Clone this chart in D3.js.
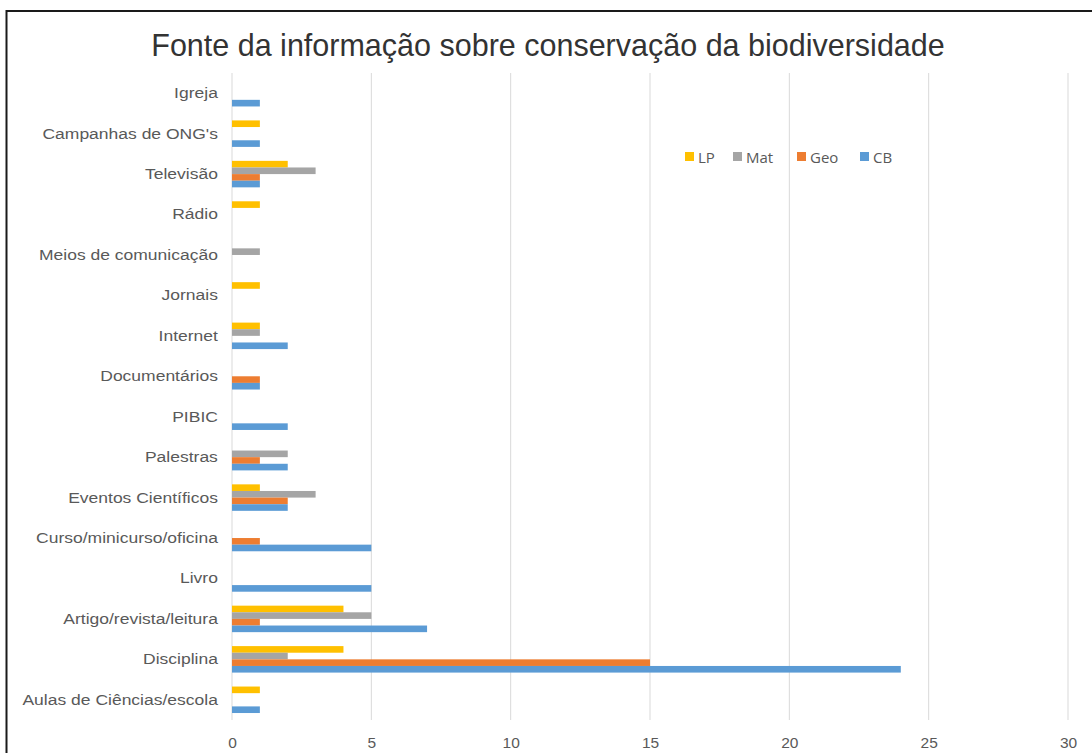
<!DOCTYPE html>
<html>
<head>
<meta charset="utf-8">
<script src="https://cdnjs.cloudflare.com/ajax/libs/d3/7.8.5/d3.min.js"></script>
<style>
html,body{margin:0;padding:0;background:#fff;}
svg{display:block;}
</style>
</head>
<body>
<svg id="chart" width="1092" height="753"></svg>
<script>
const categories = ["Igreja","Campanhas de ONG's","Televisão","Rádio","Meios de comunicação","Jornais","Internet","Documentários","PIBIC","Palestras","Eventos Científicos","Curso/minicurso/oficina","Livro","Artigo/revista/leitura","Disciplina","Aulas de Ciências/escola"];
const seriesNames = ["LP","Mat","Geo","CB"];
const seriesColors = ["#FFC000","#A5A5A5","#ED7D31","#5B9BD5"];
const LP  = [0,1,2,1,0,1,1,0,0,0,1,0,0,4,4,1];
const Mat = [0,0,3,0,1,0,1,0,0,2,3,0,0,5,2,0];
const Geo = [0,0,1,0,0,0,0,1,0,1,2,1,0,1,15,0];
const CB  = [1,1,1,0,0,0,2,1,2,2,2,5,5,7,24,1];
const xTicks = [0,5,10,15,20,25,30];
const title = "Fonte da informação sobre conservação da biodiversidade";

const seriesValues = [LP, Mat, Geo, CB];
const svg = d3.select("#chart");

// outer border (only left and top visible in reference)
svg.append("rect").attr("x",6.5).attr("y",11).attr("width",1200).attr("height",900)
  .attr("fill","none").attr("stroke","#1a1a1a").attr("stroke-width",2);

const plot = {left:232, right:1068, top:73, bottom:720};

const x = d3.scaleLinear().domain([0,30]).range([plot.left, plot.right]);
const y = d3.scaleBand().domain(categories).range([plot.top, plot.bottom]).paddingInner(0.345).paddingOuter(0.1725);
const ys = d3.scaleBand().domain(seriesNames).range([0, y.bandwidth()]);

// gridlines
svg.append("g").selectAll("line").data(xTicks.slice(1)).join("line")
  .attr("x1", d=>x(d)).attr("x2", d=>x(d))
  .attr("y1", plot.top).attr("y2", plot.bottom)
  .attr("stroke","#d9d9d9").attr("stroke-width",1);

// category axis line
svg.append("line").attr("x1",x(0)).attr("x2",x(0)).attr("y1",plot.top).attr("y2",plot.bottom)
  .attr("stroke","#d9d9d9").attr("stroke-width",1);

// bars
seriesNames.forEach((s,i)=>{
  svg.append("g").selectAll("rect").data(categories.map((c,j)=>({c, v:seriesValues[i][j]})).filter(d=>d.v>0))
    .join("rect")
    .attr("x", x(0))
    .attr("y", d=>y(d.c)+ys(s))
    .attr("width", d=>x(d.v)-x(0))
    .attr("height", ys.bandwidth())
    .attr("fill", seriesColors[i]);
});

// category labels
const yAxis = d3.axisLeft(y).tickSize(0).tickPadding(12.5);
const gy = svg.append("g").attr("transform",`translate(${x(0)},0)`).call(yAxis);
gy.select(".domain").remove();
gy.selectAll("text").attr("font-family","Liberation Sans, Arial, sans-serif")
  .attr("font-size","15.5px").attr("fill","#595959")
  .attr("transform","scale(1.13,1)");

// x axis tick labels
const xAxis = d3.axisBottom(x).tickValues(xTicks).tickSize(0).tickPadding(0);
const gx = svg.append("g").attr("transform",`translate(0,${plot.bottom+17})`).call(xAxis);
gx.select(".domain").remove();
gx.selectAll("text").attr("font-family","Liberation Sans, Arial, sans-serif")
  .attr("font-size","15.5px").attr("fill","#595959");

// title
svg.append("text").attr("x",548).attr("y",56).attr("text-anchor","middle")
  .attr("font-family","Liberation Sans, Arial, sans-serif").attr("font-size","30.5px")
  .attr("fill","#333333").text(title);

// legend
const legendX = [685, 733, 797, 860];
const lg = svg.append("g");
seriesNames.forEach((s,i)=>{
  lg.append("rect").attr("x",legendX[i]).attr("y",152).attr("width",9).attr("height",9).attr("fill",seriesColors[i]);
  lg.append("text").attr("x",legendX[i]+13).attr("y",162.5)
    .attr("font-family","Open Sans, Liberation Sans, sans-serif").attr("font-size","15px")
    .attr("fill","#595959").text(s);
});
</script>
</body>
</html>
